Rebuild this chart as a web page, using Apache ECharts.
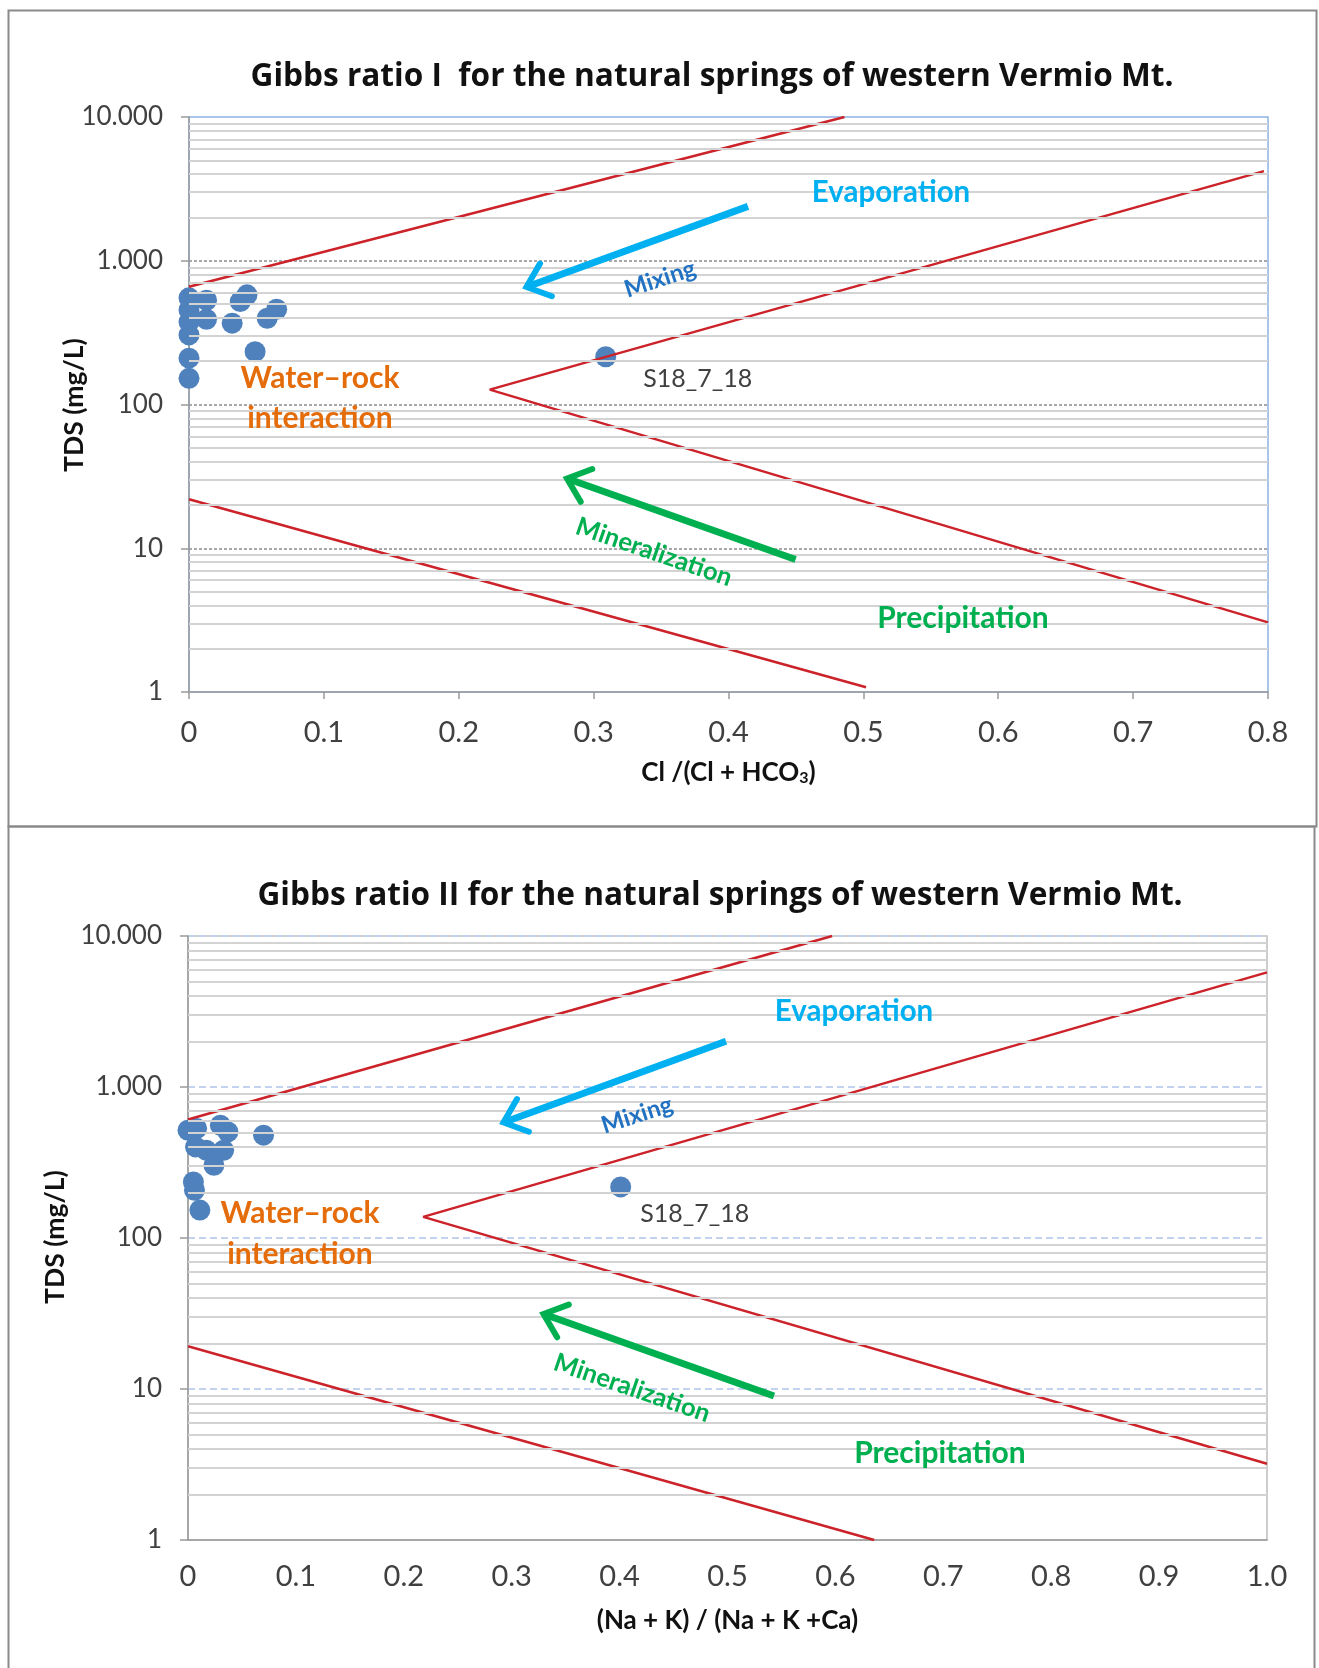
<!DOCTYPE html>
<html><head><meta charset="utf-8">
<script src="https://cdn.jsdelivr.net/npm/echarts@6/dist/echarts.min.js"></script>
<style>html,body{margin:0;padding:0;background:#fff}#c{width:1319px;height:1668px}</style>
</head><body><div id="c"></div>
<script>
// ---------------- data ----------------
const tdsTicks = [1, 10, 100, 1000, 10000];
const tdsTickLabels = ['1', '10', '100', '1.000', '10.000'];
const ratio1TickLabels = ['0', '0.1', '0.2', '0.3', '0.4', '0.5', '0.6', '0.7', '0.8'];
const ratio2TickLabels = ['0', '0.1', '0.2', '0.3', '0.4', '0.5', '0.6', '0.7', '0.8', '0.9', '1.0'];

// Gibbs ratio I : Cl/(Cl+HCO3) vs TDS (mg/L)
const springsClRatio = [0, 0, 0, 0, 0, 0, 0.013, 0.013, 0.032, 0.038, 0.043, 0.058, 0.065, 0.049, 0.309];
const springsTds1    = [552, 455, 376, 305, 210, 152, 531, 392, 368, 520, 579, 398, 460, 233, 215];
const springsLabel1  = ['', '', '', '', '', '', '', '', '', '', '', '', '', '', 'S18_7_18'];

// Gibbs ratio II : (Na+K)/(Na+K+Ca) vs TDS (mg/L)
const springsNaRatio = [0, 0.008, 0.030, 0.037, 0.070, 0.007, 0.017, 0.033, 0.024, 0.005, 0.006, 0.011, 0.401];
const springsTds2    = [517, 531, 558, 504, 480, 401, 381, 381, 303, 235, 207, 153, 218];
const springsLabel2  = ['', '', '', '', '', '', '', '', '', '', '', '', 'S18_7_18'];

// Gibbs boundary lines
const gibbs1UpperX = [0, 0.486],            gibbs1UpperY = [660, 10000];
const gibbs1ChevronX = [0.797, 0.223, 0.8], gibbs1ChevronY = [4200, 127, 3.05];
const gibbs1LowerX = [0, 0.502],            gibbs1LowerY = [21.9, 1.08];
const gibbs2UpperX = [0, 0.597],            gibbs2UpperY = [609, 10000];
const gibbs2ChevronX = [1.0, 0.218, 1.0],   gibbs2ChevronY = [5740, 138, 3.2];
const gibbs2LowerX = [0, 0.636],            gibbs2LowerY = [19.2, 1.0];

// ---------------- helpers ----------------
const FONT = 'Lato';
const TITLE_FONT = 'Open Sans';
const RED = '#cc2229';
const BLUE_PT = '#4f81bd';
const zip = (xs, ys) => xs.map((x, i) => [x, ys[i]]);
const minorValues = tdsTicks.slice(0, -1).flatMap(d => [2, 3, 4, 5, 6, 7, 8, 9].map(k => d * k));
const tdsLabel = v => { const i = tdsTicks.indexOf(Math.round(v)); return i >= 0 ? tdsTickLabels[i] : ''; };

function ratioLabel(labels) {
  return v => { const i = Math.round(v * 10); return labels[i] !== undefined ? labels[i] : ''; };
}

function scatterSeries(gi, xs, ys, names, labelOffset) {
  return {
    type: 'scatter', xAxisIndex: gi, yAxisIndex: gi, z: 3,
    symbolSize: 21,
    itemStyle: { color: BLUE_PT, opacity: 1 },
    data: xs.map((x, i) => ({
      value: [x, ys[i]], name: names[i],
      label: names[i] ? {
        show: true, position: 'right', offset: labelOffset, formatter: '{b}',
        fontFamily: FONT, fontSize: 25, color: '#404040'
      } : { show: false }
    }))
  };
}
function redLine(gi, xs, ys) {
  return {
    type: 'line', xAxisIndex: gi, yAxisIndex: gi, z: 4, symbol: 'none', silent: true,
    lineStyle: { color: RED, width: 2.5 }, data: zip(xs, ys)
  };
}
function minorGridSeries(gi) {
  return {
    type: 'line', xAxisIndex: gi, yAxisIndex: gi, z: 1, symbol: 'none', silent: true,
    lineStyle: { opacity: 0 }, data: [[0.5, 1]],
    markLine: {
      silent: true, symbol: 'none', animation: false,
      label: { show: false },
      lineStyle: { color: '#d3d3d3', width: 1.8, type: 'solid' },
      data: minorValues.map(v => ({ yAxis: v }))
    }
  };
}
function arrow(x1, y1, x2, y2, color) {
  const dx = x2 - x1, dy = y2 - y1, len = Math.hypot(dx, dy);
  const ux = dx / len, uy = dy / len, L = 27, a = 40 * Math.PI / 180;
  const rot = (s) => [x2 - L * (ux * Math.cos(s * a) - uy * Math.sin(s * a)),
                      y2 - L * (ux * Math.sin(s * a) + uy * Math.cos(s * a))];
  return [
    { type: 'polyline', silent: true, z: 50, shape: { points: [[x1, y1], [x2 - ux * 3, y2 - uy * 3]] },
      style: { stroke: color, lineWidth: 7, fill: null, lineCap: 'butt' } },
    { type: 'polyline', silent: true, z: 50, shape: { points: [rot(1), [x2, y2], rot(-1)] },
      style: { stroke: color, lineWidth: 6, fill: null, lineJoin: 'miter', lineCap: 'round' } }
  ];
}
function note(t, x, y, color, size, rotDeg) {
  return {
    type: 'text', silent: true, z: 60, x: x, y: y, rotation: (rotDeg || 0) * Math.PI / 180,
    style: { text: t, fill: color, font: 'bold ' + size + 'px ' + FONT,
             align: 'center', verticalAlign: 'middle', textAlign: 'center', textVerticalAlign: 'middle' }
  };
}

const xAxisCommon = (gi, max, labels, showTick, margin) => ({
  type: 'value', gridIndex: gi, min: 0, max: max, interval: 0.1,
  axisLine: { show: true, lineStyle: { color: '#9a9a9a', width: 1.5 } },
  axisTick: { show: showTick, length: 7, lineStyle: { color: '#9a9a9a', width: 1.5 } },
  axisLabel: { formatter: ratioLabel(labels), fontFamily: FONT, fontSize: 29, color: '#404040', margin: margin },
  splitLine: { show: false },
  nameLocation: 'middle', nameGap: 68
});
const yAxisCommon = (gi, split) => ({
  type: 'log', logBase: 10, gridIndex: gi, min: 1, max: 10000,
  axisLine: { show: true, lineStyle: { color: '#9a9a9a', width: 1.5 } },
  axisTick: { show: true, length: 8, lineStyle: { color: '#9a9a9a', width: 1.5 } },
  axisLabel: { formatter: tdsLabel, fontFamily: FONT, fontSize: 26, color: '#404040', margin: 26 },
  splitLine: split,
  minorTick: { show: false }, minorSplitLine: { show: false }
});

const chart = echarts.init(document.getElementById('c'), null, { renderer: 'canvas' });
const option = {
  animation: false,
  backgroundColor: '#fff',
  title: [
    { text: 'Gibbs ratio I  for the natural springs of western Vermio Mt.', left: 712, top: 61, textAlign: 'center', padding: 0,
      textStyle: { fontFamily: TITLE_FONT, fontWeight: 'bold', fontSize: 31.6, color: '#111' } },
    { text: 'Gibbs ratio II for the natural springs of western Vermio Mt.', left: 720, top: 880, textAlign: 'center', padding: 0,
      textStyle: { fontFamily: TITLE_FONT, fontWeight: 'bold', fontSize: 31.6, color: '#111' } }
  ],
  grid: [
    { left: 189, top: 117, width: 1079, height: 575, show: true, borderColor: '#8db3e2', borderWidth: 1.5, backgroundColor: 'transparent' },
    { left: 188, top: 936, width: 1079, height: 604, show: true, borderColor: '#bdbdbd', borderWidth: 1.5, backgroundColor: 'transparent' }
  ],
  xAxis: [
    Object.assign(xAxisCommon(0, 0.8, ratio1TickLabels, true, 26), {
      name: '{b|Cl /(Cl + HCO}{s|3}{b|)}',
      nameTextStyle: { rich: {
        b: { fontFamily: FONT, fontWeight: 'bold', fontSize: 26, color: '#111' },
        s: { fontFamily: FONT, fontWeight: 'bold', fontSize: 16, color: '#111', verticalAlign: 'bottom', padding: [10, 0, 0, 0] }
      } }
    }),
    Object.assign(xAxisCommon(1, 1.0, ratio2TickLabels, false, 22), {
      name: '(Na + K) / (Na + K +Ca)',
      nameTextStyle: { fontFamily: FONT, fontWeight: 'bold', fontSize: 26, color: '#111' }
    })
  ],
  yAxis: [
    yAxisCommon(0, { show: true, showMaxLine: false, showMinLine: false, lineStyle: { color: '#8c8c8c', width: 1.6, type: [3, 2] } }),
    yAxisCommon(1, { show: true, showMinLine: false, lineStyle: { color: '#c3d2ee', width: 2, type: [7, 4] } })
  ],
  series: [
    minorGridSeries(0),
    minorGridSeries(1),
    scatterSeries(0, springsClRatio, springsTds1, springsLabel1, [22, 22]),
    scatterSeries(1, springsNaRatio, springsTds2, springsLabel2, [4, 27]),
    redLine(0, gibbs1UpperX, gibbs1UpperY),
    redLine(0, gibbs1ChevronX, gibbs1ChevronY),
    redLine(0, gibbs1LowerX, gibbs1LowerY),
    redLine(1, gibbs2UpperX, gibbs2UpperY),
    redLine(1, gibbs2ChevronX, gibbs2ChevronY),
    redLine(1, gibbs2LowerX, gibbs2LowerY)
  ],
  graphic: [
    { type: 'rect', silent: true, z: 100, shape: { x: 8.5, y: 10.5, width: 1308, height: 816 }, style: { fill: null, stroke: '#8a8a8a', lineWidth: 2 } },
    { type: 'rect', silent: true, z: 100, shape: { x: 8.5, y: 826.5, width: 1306, height: 860 }, style: { fill: null, stroke: '#8a8a8a', lineWidth: 2 } },
    // y-axis titles
    { type: 'text', silent: true, z: 60, x: 74.5, y: 405, rotation: Math.PI / 2,
      style: { text: 'TDS (mg/L)', fill: '#111', font: 'bold 26.5px ' + FONT, align: 'center', verticalAlign: 'middle', textAlign: 'center', textVerticalAlign: 'middle' } },
    { type: 'text', silent: true, z: 60, x: 55.5, y: 1237, rotation: Math.PI / 2,
      style: { text: 'TDS (mg/L)', fill: '#111', font: 'bold 26.5px ' + FONT, align: 'center', verticalAlign: 'middle', textAlign: 'center', textVerticalAlign: 'middle' } },
    ...arrow(748, 206.4, 526.5, 287, '#00b0f0'),
    ...arrow(795.6, 559.5, 567, 478.5, '#00b050'),
    ...arrow(726, 1041.2, 503.5, 1122.5, '#00b0f0'),
    ...arrow(774, 1396, 543.5, 1314, '#00b050'),
    note('Evaporation', 891, 192.5, '#00b0f0', 29.5),
    note('Mixing', 660, 279, '#2272c3', 24, 18),
    note('Water–rock', 320, 378.7, '#e46c0a', 30),
    note('interaction', 320, 418, '#e46c0a', 30),
    note('Mineralization', 654, 552, '#00b050', 25.5, -19),
    note('Precipitation', 963, 618, '#00b050', 30),
    note('Evaporation', 854, 1011.7, '#00b0f0', 29.5),
    note('Mixing', 637, 1115, '#2272c3', 24, 18),
    note('Water–rock', 300, 1213.7, '#e46c0a', 30),
    note('interaction', 300, 1254, '#e46c0a', 30),
    note('Mineralization', 632, 1388, '#00b050', 25.5, -19),
    note('Precipitation', 940, 1453.5, '#00b050', 30)
  ]
};
chart.setOption(option);
</script>
</body></html>
